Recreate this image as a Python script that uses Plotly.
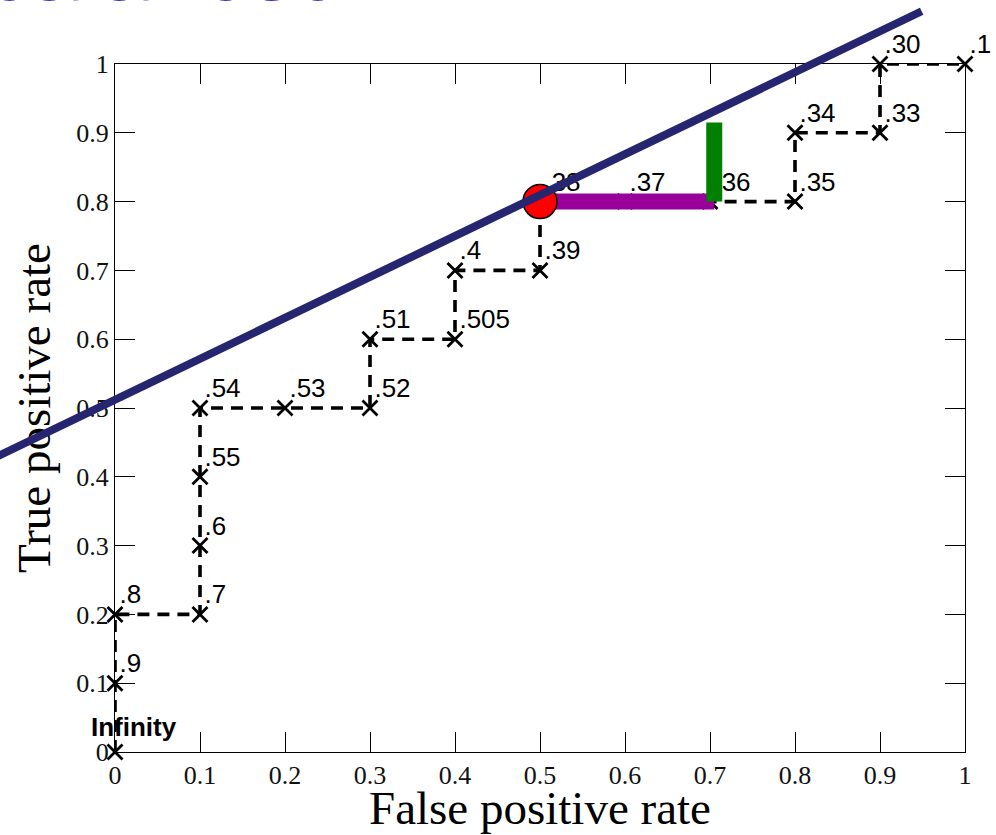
import plotly.graph_objects as go

# ROC curve: false/true positive rate at each score threshold
fpr = [0, 0, 0, 0.1, 0.1, 0.1, 0.1, 0.2, 0.3, 0.3, 0.4, 0.4, 0.5, 0.5, 0.6, 0.7, 0.8, 0.8, 0.9, 0.9, 1.0]
tpr = [0, 0.1, 0.2, 0.2, 0.3, 0.4, 0.5, 0.5, 0.5, 0.6, 0.6, 0.7, 0.7, 0.8, 0.8, 0.8, 0.8, 0.9, 0.9, 1.0, 1.0]
thresholds = ["Infinity", ".9", ".8", ".7", ".6", ".55", ".54", ".53", ".52", ".51", ".505",
              ".4", ".39", ".38", ".37", ".36", ".35", ".34", ".33", ".30", ".1"]

tick_vals = [0, 0.1, 0.2, 0.3, 0.4, 0.5, 0.6, 0.7, 0.8, 0.9, 1]
tick_text = ["0", "0.1", "0.2", "0.3", "0.4", "0.5", "0.6", "0.7", "0.8", "0.9", "1"]

# chosen operating point and its horizontal / vertical gaps
op_fpr = [0.5]
op_tpr = [0.8]
fp_gap_x = [0.5, 0.705]
fp_gap_y = [0.8, 0.8]
tp_gap_x = [0.705, 0.705]
tp_gap_y = [0.8, 0.915]

# iso-performance line  tpr = intercept + slope * fpr
iso_slope = 0.595
iso_intercept = 0.512
iso_fpr = [-0.2, 0.949]
iso_tpr = [iso_intercept + iso_slope * v for v in iso_fpr]

title_text = "Unbalanced"

SERIF = "Liberation Serif, Times New Roman, serif"
SANS = "Liberation Sans, Arial, Helvetica, sans-serif"

fig = go.Figure()

# threshold labels (first one handled separately)
fig.add_trace(go.Scatter(
    x=fpr[1:], y=tpr[1:], text=thresholds[1:],
    mode="markers+text", textposition="top right",
    marker=dict(size=5.5, color="rgba(0,0,0,0)"),
    textfont=dict(family=SANS, size=26, color="black"),
    cliponaxis=False, hoverinfo="skip", showlegend=False,
))

# stepwise ROC path
fig.add_trace(go.Scatter(
    x=fpr, y=tpr, mode="lines+markers",
    line=dict(color="black", width=3.6, dash="12px,8px"),
    marker=dict(symbol="x-thin", size=15, color="black",
                line=dict(width=2.8, color="black")),
    cliponaxis=False, hoverinfo="skip", showlegend=False,
))

fig.add_trace(go.Scatter(
    x=fp_gap_x, y=fp_gap_y, mode="lines",
    line=dict(color="#990099", width=16),
    hoverinfo="skip", showlegend=False,
))
fig.add_trace(go.Scatter(
    x=tp_gap_x, y=tp_gap_y, mode="lines",
    line=dict(color="#008000", width=16),
    hoverinfo="skip", showlegend=False,
))
fig.add_trace(go.Scatter(
    x=op_fpr, y=op_tpr, mode="markers",
    marker=dict(size=34, color="#ff0000", line=dict(color="black", width=1.5)),
    cliponaxis=False, hoverinfo="skip", showlegend=False,
))

axis_style = dict(
    range=[0, 1], tickvals=tick_vals, ticktext=tick_text,
    showline=True, linecolor="black", linewidth=1.3, mirror="ticks",
    ticks="inside", ticklen=20, tickwidth=1, tickcolor="black",
    showgrid=False, zeroline=False,
    tickfont=dict(family=SERIF, size=26, color="#111111"),
)

fig.update_layout(
    width=996, height=835,
    margin=dict(l=115, r=31, t=64, b=83),
    paper_bgcolor="white", plot_bgcolor="white",
    xaxis=axis_style, yaxis=axis_style,
    shapes=[
        # y-axis title, placed in the shape layer so the line can cross it
        dict(type="rect", xref="paper", yref="paper",
             x0=-0.132, x1=-0.071, y0=0, y1=1,
             line=dict(width=0), fillcolor="rgba(0,0,0,0)", layer="above",
             label=dict(text="True positive rate", textangle=-90,
                        textposition="middle center",
                        font=dict(family=SERIF, size=47, color="black"))),
        dict(type="line", xref="paper", yref="paper",
             x0=iso_fpr[0], y0=iso_tpr[0], x1=iso_fpr[1], y1=iso_tpr[1],
             line=dict(color="#262670", width=8), layer="above"),
    ],
    annotations=[
        dict(x=fpr[0], y=tpr[0], xref="x", yref="y", text="<b>" + thresholds[0] + "</b>",
             showarrow=False, xanchor="center", yanchor="bottom", xshift=19, yshift=8,
             font=dict(family=SANS, size=26, color="black")),
        dict(x=0.5, y=-0.081, xref="paper", yref="paper", text="False positive rate",
             showarrow=False, xanchor="center", yanchor="middle",
             font=dict(family=SERIF, size=47, color="black")),
        dict(x=0.274, y=1.062, xref="paper", yref="paper", text=title_text,
             showarrow=False, xanchor="right", yanchor="bottom",
             font=dict(family=SANS, size=90, color="#3535cc")),
    ],
)

fig.write_html("out.html")
